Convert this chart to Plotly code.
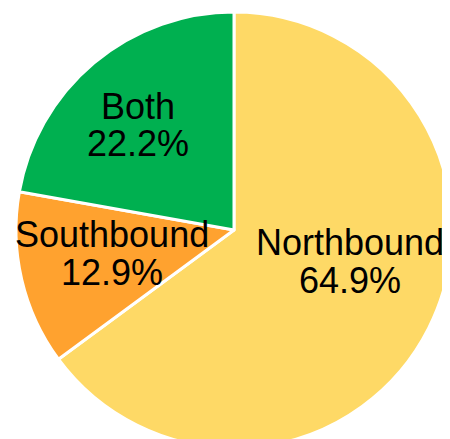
import plotly.graph_objects as go

labels = ["Northbound", "Southbound", "Both"]
values = [64.9, 12.9, 22.2]
colors = ["#FED966", "#FFA22F", "#00B050"]

# label anchor points (screen pixels of the rendered page), layout only
label_pos = {"Northbound": (350, 261), "Southbound": (112, 253), "Both": (137.5, 124)}

# figure geometry (page has an 8px body margin)
W, H = 444, 440
ML, MT = 8, 4
PW, PH = W - ML, H - MT
BODY = 8


def to_paper(xs, ys):
    return (xs - BODY - ML) / PW, 1 - (ys - BODY - MT) / PH


FONT = dict(family="Liberation Sans, Arial, sans-serif", size=36, color="black")

fig = go.Figure(go.Pie(
    labels=labels,
    values=values,
    sort=False,
    direction="clockwise",
    rotation=0,
    marker=dict(colors=colors, line=dict(color="white", width=3)),
    textinfo="none",
    hoverinfo="label+percent",
    showlegend=False,
    domain=dict(x=[0, 1], y=[0, 1]),
))

annotations = []
for lab, val in zip(labels, values):
    px, py = to_paper(*label_pos[lab])
    annotations.append(dict(x=px, y=py, xref="paper", yref="paper", text=lab,
                            showarrow=False, font=FONT, xanchor="center",
                            yanchor="middle", yshift=18))
    annotations.append(dict(x=px, y=py, xref="paper", yref="paper", text=f"{val:.1f}%",
                            showarrow=False, font=FONT, xanchor="center",
                            yanchor="middle", yshift=-19))

fig.update_layout(
    width=W,
    height=H,
    margin=dict(l=ML, r=0, t=MT, b=0, pad=0),
    paper_bgcolor="white",
    plot_bgcolor="white",
    annotations=annotations,
)

fig.write_html("out.html")
